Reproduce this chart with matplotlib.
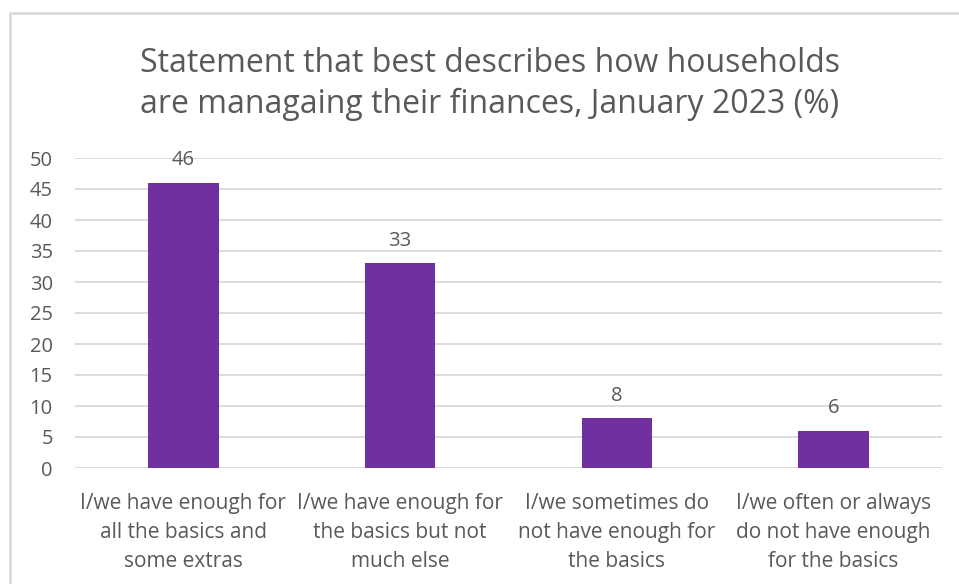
import matplotlib.pyplot as plt
import numpy as np
from matplotlib.patches import Rectangle

########################################################################

categories = [
    'I/we have enough for\nall the basics and\nsome extras',
    'I/we have enough for\nthe basics but not\nmuch else',
    'I/we sometimes do\nnot have enough for\nthe basics',
    'I/we often or always\ndo not have enough\nfor the basics',
]
percent = [46, 33, 8, 6]
yticks = [0, 5, 10, 15, 20, 25, 30, 35, 40, 45, 50]

title = ('Statement that best describes how households\n'
         'are managaing their finances, January 2023 (%)')

########################################################################

plt.rcParams['font.family'] = ['Open Sans', 'DejaVu Sans']
grey_text = '#595959'
purple = '#7030A0'

fig = plt.figure(figsize=(9.59, 5.84), dpi=100)
ax = fig.add_axes([75 / 959, 1 - 468 / 584, 867 / 959, 310 / 584])

# chart border (runs off the right and bottom edge)
fig.patches.append(Rectangle((10 / 959, -0.1), 1.2, 1 - 13 / 584 + 0.1,
                             transform=fig.transFigure, fill=False,
                             edgecolor='#D9D9D9', linewidth=2))

x = np.arange(len(categories))
bars = ax.bar(x, percent, width=0.325, color=purple, zorder=3)

for xi, v in zip(x, percent):
    ax.text(xi, v + 2.0, str(v), ha='center', va='bottom',
            fontsize=14.5, color=grey_text, zorder=4)

ax.set_xlim(-0.5, len(categories) - 0.5)
ax.set_ylim(0, 50)
ax.set_yticks(yticks)
ax.yaxis.grid(True, color='#D9D9D9', linewidth=1.3, zorder=0)
ax.set_xticks(x)
ax.set_xticklabels(categories, fontsize=15, color=grey_text, linespacing=1.5)
ax.tick_params(axis='y', labelsize=14.5, labelcolor=grey_text, length=0, pad=16)
ax.tick_params(axis='x', length=0, pad=18)
for s in ax.spines.values():
    s.set_visible(False)
ax.axhline(0, color='#D9D9D9', linewidth=1.3, zorder=1)

fig.text(490 / 959, 1 - 84 / 584, title, ha='center', va='center',
         fontsize=23, color=grey_text, linespacing=1.3)

fig.savefig('out.png', dpi=100)
